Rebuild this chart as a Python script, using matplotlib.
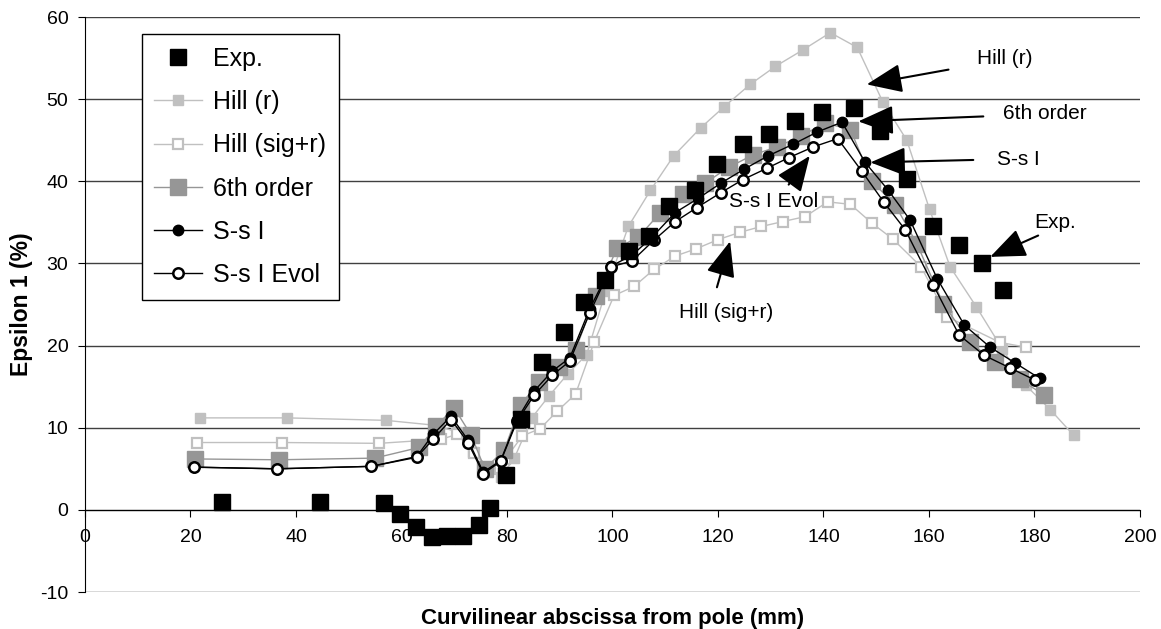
import matplotlib
matplotlib.use("Agg")
import matplotlib.pyplot as plt

plt.rcParams['font.family'] = ['Liberation Sans', 'DejaVu Sans']
plt.rcParams['axes.unicode_minus'] = False

# data (x in mm, y in %)
exp_x = [25.9, 44.5, 56.6, 59.7, 62.7, 65.7, 68.7, 71.6, 74.7, 76.7, 79.8, 82.6, 86.7, 90.8,
         94.6, 98.6, 103.1, 107.0, 110.8, 115.6, 119.8, 124.7, 129.7, 134.6, 139.7, 145.8,
         150.7, 155.8, 160.8, 165.7, 170.0, 174.0]
exp_y = [0.9, 0.9, 0.8, -0.5, -2.1, -3.3, -3.2, -3.2, -1.8, 0.2, 4.2, 11.1, 18.0, 21.7,
         25.3, 28.0, 31.5, 33.4, 37.0, 39.0, 42.1, 44.5, 45.8, 47.4, 48.5, 48.9,
         46.1, 40.3, 34.5, 32.3, 30.0, 26.8]

hill_r_x = [21.8, 38.3, 57.0, 66.4, 70.5, 73.5, 76.3, 78.8, 81.4, 84.7, 88.0, 91.6, 95.1,
            98.7, 103.0, 107.2, 111.6, 116.7, 121.2, 126.1, 130.9, 136.1, 141.3, 146.4,
            151.3, 155.8, 160.1, 164.0, 169.0, 173.9, 178.3, 183.0, 187.4]
hill_r_y = [11.2, 11.2, 10.9, 10.3, 9.5, 7.0, 5.2, 4.0, 6.3, 11.2, 13.9, 16.6, 18.9,
            26.6, 34.5, 38.9, 43.1, 46.5, 49.1, 51.8, 54.0, 56.0, 58.1, 56.3,
            49.6, 45.0, 36.6, 29.6, 24.7, 19.6, 15.2, 12.2, 9.1]

hill_sr_x = [21.2, 37.4, 55.8, 67.5, 70.6, 73.8, 76.8, 79.7, 82.9, 86.3, 89.5, 93.0, 96.5,
             100.3, 104.1, 107.9, 111.9, 115.9, 120.0, 124.2, 128.2, 132.3, 136.5, 140.8,
             145.1, 149.2, 153.1, 158.5, 163.5, 173.4, 178.4]
hill_sr_y = [8.2, 8.2, 8.1, 8.6, 9.2, 6.9, 5.0, 6.2, 9.0, 9.9, 12.0, 14.1, 20.4,
             26.1, 27.2, 29.3, 30.9, 31.8, 32.9, 33.8, 34.5, 35.1, 35.7, 37.5,
             37.2, 34.9, 33.0, 29.6, 23.5, 20.4, 19.8]

ord6_x = [20.8, 36.7, 54.9, 63.4, 66.5, 70.0, 73.2, 75.8, 79.5, 82.6, 86.1, 89.8, 93.0, 96.8,
          100.9, 104.9, 109.1, 113.4, 117.6, 122.0, 126.6, 131.2, 135.7, 140.3, 145.1,
          149.2, 153.6, 157.7, 162.7, 167.8, 172.5, 177.2, 181.8]
ord6_y = [6.2, 6.1, 6.3, 7.6, 10.2, 12.4, 9.1, 5.0, 7.3, 12.8, 15.6, 17.4, 19.5, 26.0,
          31.9, 33.2, 36.2, 38.4, 39.8, 41.7, 43.2, 44.2, 45.5, 47.1, 46.3,
          40.0, 37.1, 32.4, 25.1, 20.4, 18.0, 15.9, 14.0]

ssi_x = [20.7, 36.4, 54.3, 62.9, 66.0, 69.4, 72.6, 75.5, 78.8, 81.9, 85.2, 88.6, 91.9, 95.7,
         99.8, 103.7, 107.5, 111.9, 116.2, 120.6, 125.0, 129.5, 134.2, 138.8, 143.5,
         147.9, 152.3, 156.4, 161.6, 166.7, 171.6, 176.3, 181.0]
ssi_y = [5.2, 5.0, 5.3, 6.5, 9.2, 11.4, 8.5, 4.6, 6.0, 11.0, 14.5, 16.9, 18.5, 24.5,
         29.7, 31.0, 33.2, 36.2, 37.9, 39.8, 41.5, 43.1, 44.5, 46.0, 47.2,
         42.3, 38.9, 35.3, 28.1, 22.5, 19.8, 17.9, 16.0]

evol_x = [20.7, 36.4, 54.3, 62.9, 66.0, 69.4, 72.6, 75.5, 78.8, 81.9, 85.2, 88.6, 91.9, 95.7,
          99.8, 103.7, 107.8, 111.9, 116.0, 120.5, 124.7, 129.3, 133.5, 138.1, 142.7,
          147.3, 151.4, 155.5, 160.8, 165.7, 170.5, 175.3, 180.1]
evol_y = [5.2, 5.0, 5.3, 6.4, 8.6, 11.0, 8.2, 4.4, 5.9, 10.8, 14.0, 16.4, 18.1, 24.0,
          29.6, 30.3, 32.8, 35.1, 36.8, 38.6, 40.2, 41.6, 42.9, 44.2, 45.2,
          41.2, 37.5, 34.1, 27.4, 21.3, 18.8, 17.3, 15.8]

fig = plt.figure(figsize=(11.61, 6.29), dpi=100)
ax = fig.add_axes([0.0732, 0.0588, 0.9087, 0.9141])

light = '#c0c0c0'
mid = '#969696'

ax.plot(hill_r_x, hill_r_y, color=light, lw=1, marker='s', ms=7, mfc=light, mec=light,
        label='Hill (r)', zorder=3)
ax.plot(hill_sr_x, hill_sr_y, color=light, lw=1, marker='s', ms=7, mfc='white', mec=light,
        mew=1.6, label='Hill (sig+r)', zorder=3)
ax.plot(ord6_x, ord6_y, color=mid, lw=1, marker='s', ms=11, mfc=mid, mec=mid,
        label='6th order', zorder=4)
ax.plot(ssi_x, ssi_y, color='black', lw=1, marker='o', ms=7.5, mfc='black', mec='black',
        label='S-s I', zorder=5)
ax.plot(evol_x, evol_y, color='black', lw=1, marker='o', ms=7.5, mfc='white', mec='black',
        mew=1.8, label='S-s I Evol', zorder=6)
ax.plot(exp_x, exp_y, ls='none', marker='s', ms=11.5, mfc='black', mec='black',
        label='Exp.', zorder=7)

ax.set_xlim(0, 200)
ax.set_ylim(-10, 60)
ax.set_xticks(range(0, 201, 20))
ax.set_yticks(range(-10, 61, 10))
ax.yaxis.grid(True, color='#404040', lw=1)
ax.set_axisbelow(True)

for s in ['top', 'right']:
    ax.spines[s].set_visible(False)
ax.spines['bottom'].set_position(('data', 0))
ax.spines['bottom'].set_color('black')
ax.spines['left'].set_color('black')
ax.tick_params(axis='x', direction='out', length=5, labelsize=14, pad=9)
ax.tick_params(axis='y', direction='out', length=5, labelsize=14, pad=7)

ax.set_xlabel('Curvilinear abscissa from pole (mm)', fontsize=16, fontweight='bold')
ax.xaxis.set_label_coords(0.5, -0.028)
ax.set_ylabel('Epsilon 1 (%)', fontsize=16.5, fontweight='bold', labelpad=5)

handles, labels = ax.get_legend_handles_labels()
order = [5, 0, 1, 2, 3, 4]
leg = ax.legend([handles[i] for i in order], [labels[i] for i in order],
                loc='upper left', bbox_to_anchor=(0.054, 0.97), borderaxespad=0,
                fontsize=18, frameon=True, fancybox=False, edgecolor='black',
                framealpha=1, handlelength=1.9, handletextpad=0.45,
                labelspacing=0.77, borderpad=0.5)
leg.get_frame().set_linewidth(1)

arrow = dict(arrowstyle='-|>,head_length=1.1,head_width=0.45', mutation_scale=20,
             color='black', lw=1.5, shrinkA=0, shrinkB=0)
notes = [
    ('Hill (r)', (148.2, 51.8), (163.7, 53.6), (174.3, 55.0)),
    ('6th order', (146.6, 47.3), (170.3, 47.9), (182.0, 48.2)),
    ('S-s I', (148.9, 42.3), (168.4, 42.6), (177.0, 42.6)),
    ('Exp.', (171.6, 30.8), (180.7, 33.4), (183.9, 35.0)),
    ('S-s I Evol', (137.4, 43.1), (133.4, 39.6), (130.5, 37.6)),
    ('Hill (sig+r)', (122.3, 32.7), (119.8, 27.1), (121.5, 24.0)),
]
for txt, head, tail, pos in notes:
    ax.annotate('', xy=head, xytext=tail, arrowprops=arrow, zorder=8)
    ax.text(pos[0], pos[1], txt, fontsize=15, ha='center', va='center', zorder=8)

fig.savefig('out.png', dpi=100)
